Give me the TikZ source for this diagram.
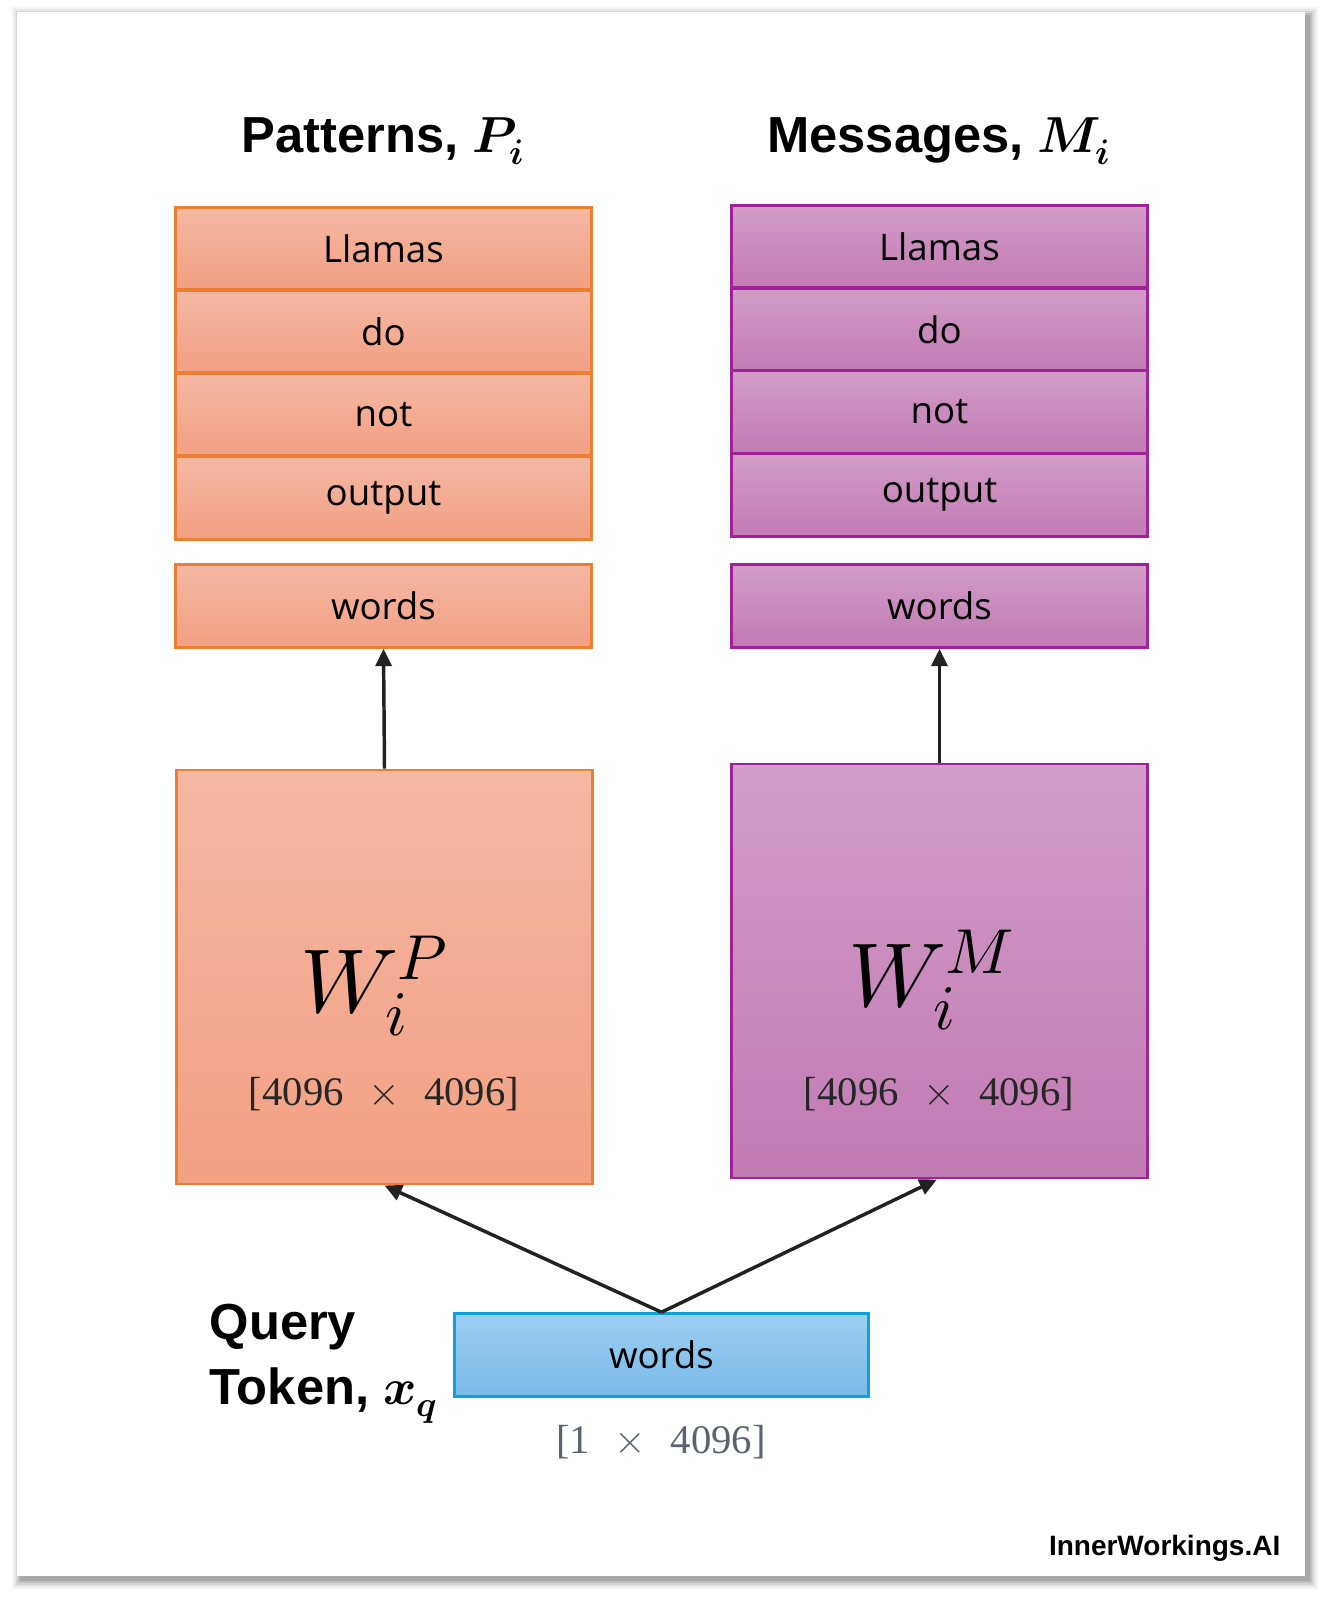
\documentclass[tikz,border=0pt]{standalone}
\usepackage{fontspec}
\usepackage{unicode-math}
\setmainfont{Open Sans}
\setmathfont{Latin Modern Math}
\newfontfamily\titlefont{Liberation Sans}
\newfontfamily\dimfont{Liberation Serif}
\newfontfamily\logofont{Liberation Sans}
\usetikzlibrary{arrows.meta}

\definecolor{patline}{RGB}{237,125,49}
\definecolor{pattop}{RGB}{245,184,163}
\definecolor{patbot}{RGB}{242,160,131}
\definecolor{msgline}{RGB}{160,33,154}
\definecolor{msgtop}{RGB}{209,156,198}
\definecolor{msgbot}{RGB}{194,123,180}
\definecolor{qline}{RGB}{16,160,220}
\definecolor{qtop}{RGB}{157,207,242}
\definecolor{qbot}{RGB}{121,185,232}
\definecolor{dimgray}{RGB}{90,100,112}
\definecolor{arrowgray}{RGB}{34,34,34}

\newcommand{\dimgap}{\hspace{0.6em}}

\tikzset{
  rowbox/.style={rectangle, inner sep=0pt, line width=2.2pt,
    minimum width=312.5pt, minimum height=62pt, font=\fontsize{27.5}{30}\selectfont},
  bigbox/.style={rectangle, inner sep=0pt, line width=2.2pt,
    minimum width=311.5pt, minimum height=310.5pt},
  patfill/.style={draw=patline, top color=pattop, bottom color=patbot},
  msgfill/.style={draw=msgline, top color=msgtop, bottom color=msgbot},
  titletext/.style={anchor=base, font=\titlefont\bfseries\fontsize{38}{40}\selectfont},
  dimtext/.style={anchor=base, text=black!85, font=\dimfont\fontsize{30.5}{33}\selectfont},
  bigsym/.style={anchor=base west, inner sep=0pt, font=\fontsize{68}{70}\selectfont},
  arrowline/.style={draw=arrowgray, line width=2.6pt,
    -{Triangle[length=13pt,width=12pt]}},
}

\begin{document}
\begin{tikzpicture}[x=0.75pt,y=-0.75pt]
\useasboundingbox (0,0) rectangle (1322,1600);

% card with soft shadow
\foreach \s/\o in {9/0.04,7/0.06,5/0.08,3/0.10,1/0.12}
  \fill[black, opacity=\o] (17-\s+4,12-\s+4) rectangle (1305+\s+4,1576+\s+4);
\fill[white] (17,12) rectangle (1305,1576);

% titles
\node[titletext] (titleP) at (383,152) {Patterns, $\symbfit{P}_{\symbfit{i}}$};
\node[titletext] (titleM) at (939,152) {Messages, $\symbfit{M}_{\symbfit{i}}$};

% pattern column
\node[rowbox, patfill] (pat1) at (383.5,248.5) {Llamas};
\node[rowbox, patfill] (pat2) at (383.5,331.5) {do};
\node[rowbox, patfill] (pat3) at (383.5,414.5) {not};
\node[rowbox, patfill] (pat4) at (383.5,498) {output};
\node[rowbox, patfill] (wordsP) at (383.5,606) {words};
\node[bigbox, patfill] (wP) at (384.5,977) {};
\node[bigsym] (symP) at (300,1012) {$W_i^{P}$};
\node[dimtext] (dimP) at (384,1105) {[4096\dimgap$\times$\dimgap4096]};

% message column
\node[rowbox, msgfill] (msg1) at (939.5,246.5) {Llamas};
\node[rowbox, msgfill] (msg2) at (939.5,329.5) {do};
\node[rowbox, msgfill] (msg3) at (939.5,412) {not};
\node[rowbox, msgfill] (msg4) at (939.5,495) {output};
\node[rowbox, msgfill] (wordsM) at (939.5,606) {words};
\node[bigbox, msgfill] (wM) at (939.5,971) {};
\node[bigsym] (symM) at (848,1006) {$W_i^{M}$};
\node[dimtext] (dimM) at (939,1105) {[4096\dimgap$\times$\dimgap4096]};

% query token
\node[rowbox, draw=qline, top color=qtop, bottom color=qbot, minimum width=310pt]
  (query) at (661.5,1355) {words};
\node[dimtext, text=dimgray] (dimQ) at (661,1453) {[1\dimgap$\times$\dimgap4096]};
\node[titletext, anchor=base west] (qlabel1) at (205,1339) {Query};
\node[titletext, anchor=base west] (qlabel2) at (205,1404) {Token, $\symbfit{x}_{\symbfit{q}}$};

% connectors
\draw[arrowline] (wP.north) -- (wordsP.south);
\draw[arrowline] (wM.north) -- (wordsM.south);
\draw[arrowline] (query.north) -- (wP.south);
\draw[arrowline] (query.north) -- ([xshift=-2pt]wM.south);

% logo
\node[anchor=base east, font=\logofont\bfseries\fontsize{21}{24}\selectfont] (logo) at (1285,1555) {InnerWorkings.AI};
\end{tikzpicture}
\end{document}
